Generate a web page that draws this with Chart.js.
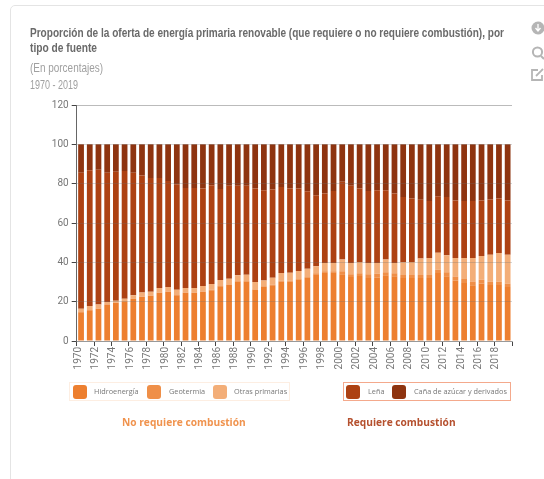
<!DOCTYPE html>
<html lang="es">
<head>
<meta charset="utf-8">
<title>Oferta de energía primaria renovable</title>
<script src="https://cdn.jsdelivr.net/npm/chart.js@4"></script>
<style>
html,body{margin:0;padding:0;background:#fff;width:544px;height:479px;overflow:hidden}
#page{position:absolute;left:0;top:0;width:544px;height:479px;overflow:hidden;filter:blur(.65px)}
#card{position:absolute;left:10px;top:5px;width:600px;height:600px;border:1px solid #e4e4e4;border-radius:5px;box-sizing:border-box}
canvas{position:absolute;left:0;top:0}
.t{position:absolute;white-space:nowrap;font-family:"Liberation Sans",sans-serif;transform-origin:0 50%}
#t1,#t2{left:30px;font-size:13.5px;font-weight:bold;color:#6a6a6a;line-height:14px}
#t1{top:26px}#t2{top:41px}
#t3{left:30px;top:60px;font-size:13px;color:#a0a0a0}
#t4{left:30px;top:78px;font-size:12px;color:#a0a0a0}
.box{position:absolute;top:382px;height:19px;box-sizing:border-box}
#boxA{left:69px;width:221px;border:1px solid #fdeee2}
#boxB{left:343px;width:168px;border:1px solid #f4a98c}
.sw{position:absolute;top:384.5px;width:14px;height:14px;border-radius:3px}
.lg{position:absolute;top:386px;font:7.3px/11px "Open Sans",sans-serif;color:#777;white-space:nowrap}
.gp{position:absolute;top:416px;font:bold 10.2px/13px "Open Sans",sans-serif;white-space:nowrap}
svg{position:absolute;left:528px;top:18px}
</style>
</head>
<body>
<div id="page">
<div id="card"></div>
<canvas id="c" width="544" height="479"></canvas>
<div class="t" id="t1">Proporción de la oferta de energía primaria renovable (que requiere o no requiere combustión), por</div>
<div class="t" id="t2">tipo de fuente</div>
<div class="t" id="t3">(En porcentajes)</div>
<div class="t" id="t4">1970 - 2019</div>
<div class="box" id="boxA"></div>
<div class="box" id="boxB"></div>
<div id="legend"></div>
<svg width="16" height="70" viewBox="0 0 16 70">
<circle cx="10" cy="10" r="6.5" fill="#b5b5b5"/>
<path d="M10 6v6M7.5 10l2.5 3 2.5-3" stroke="#fff" stroke-width="1.3" fill="none"/>
<circle cx="9.5" cy="34" r="4.6" fill="none" stroke="#b5b5b5" stroke-width="2"/>
<path d="M13 38l3 3" stroke="#b5b5b5" stroke-width="2"/>
<path d="M10 52H4v10h10v-5" fill="none" stroke="#b5b5b5" stroke-width="1.8"/>
<path d="M8 58l7-7" stroke="#b5b5b5" stroke-width="1.8"/>
</svg>
</div>
<script>
const years = ["1970","1971","1972","1973","1974","1975","1976","1977","1978","1979","1980","1981","1982","1983","1984","1985","1986","1987","1988","1989","1990","1991","1992","1993","1994","1995","1996","1997","1998","1999","2000","2001","2002","2003","2004","2005","2006","2007","2008","2009","2010","2011","2012","2013","2014","2015","2016","2017","2018","2019"];
const hidroenergia = [14.6,15.6,16.4,18.5,19.3,20.2,21.5,22.4,23,24.5,25,23.2,24.4,24.4,25,25.8,27.8,28.6,30.3,30.3,26,27.5,28.3,30.3,30.3,31.2,32.2,33.9,35,35,34,32.5,33,32,32.2,33.4,32.9,32,32,32,32,34.6,32.9,30.8,29.5,28.3,29.2,28.5,28.5,27.5];
const geotermia = [.1,.1,.1,.1,.1,.1,.1,.1,.1,.1,.2,.2,.2,.2,.2,.2,.2,.2,.2,.2,.3,.3,.3,.3,.3,.3,.3,.5,.5,.5,1.5,1.5,1.5,2,2,1.5,1.5,1.5,1.5,1.5,1.5,1.6,2,2,2,2,2,1.6,1.6,1.6];
const otrasPrimarias = [1.7,2.1,2.1,1.2,1.1,1.2,1.6,2.1,1.9,2.4,2.3,2.6,2.4,2.4,2.8,3,3,2.9,2.9,3.2,3.7,3,3.6,4,4.1,4.1,4.3,3.6,4.2,4.2,5.9,5.7,5.7,5.7,5.5,6.5,5.3,6.5,6.7,8.4,8.7,8.7,8.7,9.4,10.7,11.9,12,13.8,14.6,14.8];
const lena = [69.2,69,68.5,65.8,65.6,64.9,62.4,59.6,57.9,55.9,53.9,53.7,50.8,50.8,49.5,50.2,46.3,47.3,45.6,45.3,47.5,45.8,44.8,43.7,42.8,41.9,39.3,36.1,35.3,36.6,39.6,39.3,37.3,36.6,36.9,35.2,35.3,33.2,32.2,29.9,29,28.7,29.6,29.3,29,29,28.3,28.1,27.7,27.6];
const bagazo = [14.4,13.2,12.9,14.4,13.9,13.6,14.4,15.8,17.1,17.1,18.6,20.3,22.2,22.2,22.5,20.8,22.7,21,21,21,22.5,23.4,23,21.7,22.5,22.5,23.9,25.9,25,23.7,19,21,22.5,23.7,23.4,23.4,25,26.8,27.6,28.2,28.8,26.4,26.8,28.5,28.8,28.8,28.5,28,27.6,28.5];
const seriesNames = ["Hidroenergía","Geotermia","Otras primarias","Leña","Caña de azúcar y derivados"];
const seriesColors = ["#ed7f2f","#ef8f48","#f3ae78","#ad4112","#8e3410"];
const seriesValues = [hidroenergia,geotermia,otrasPrimarias,lena,bagazo];
const yTicks = [0,20,40,60,80,100,120];
const groupNames = ["No requiere combustión","Requiere combustión"];

[["t1",474],["t2",67],["t3",73],["t4",48]].forEach(([id,w])=>{
  const e=document.getElementById(id);
  e.style.transform='scaleX('+(w/e.getBoundingClientRect().width)+')';
});

const legendPos = [[73,94],[147,169],[213,234],[346,368],[392,414]];
const legend = document.getElementById('legend');
seriesNames.forEach((n,i)=>{
  const s=document.createElement('div');s.className='sw';s.style.left=legendPos[i][0]+'px';s.style.background=seriesColors[i];legend.appendChild(s);
  const l=document.createElement('div');l.className='lg';l.style.left=legendPos[i][1]+'px';l.textContent=n;legend.appendChild(l);
});
[[122,"#f0934e"],[347,"#b5502e"]].forEach((g,i)=>{
  const d=document.createElement('div');d.className='gp';d.style.left=g[0]+'px';d.style.color=g[1];d.textContent=groupNames[i];legend.appendChild(d);
});

new Chart(document.getElementById('c'),{
  type:'bar',
  data:{labels:years,datasets:seriesNames.map((n,i)=>({label:n,data:seriesValues[i],backgroundColor:seriesColors[i],stack:'s',borderWidth:0,barPercentage:.66,categoryPercentage:1}))},
  options:{
    responsive:false,animation:false,
    layout:{padding:{left:0,top:105,right:32,bottom:0}},
    plugins:{legend:{display:false},tooltip:{enabled:false},title:{display:false}},
    scales:{
      x:{stacked:true,
        afterFit(s){s.height=138;},
        grid:{offset:true,drawOnChartArea:false,drawTicks:true,tickLength:5,tickColor:c=>c.index%2?'transparent':'#444',color:'#999'},
        border:{color:'#aaa'},
        ticks:{autoSkip:false,minRotation:90,maxRotation:90,padding:1,labelOffset:-3,color:'#777',font:{family:'Roboto',size:10},
          callback(v,i){return i%2?'':this.getLabelForValue(v);}}
      },
      y:{stacked:true,min:0,max:120,
        afterFit(s){s.width=76.7;},
        afterBuildTicks(s){s.ticks=yTicks.map(v=>({value:v}));},
        grid:{z:1,color:c=>c.tick&&c.tick.value===120?'#bbb':'rgba(110,110,110,.28)',tickColor:'#444',tickLength:5},
        border:{color:'#666',z:2},
        ticks:{padding:3,color:'#777',font:{family:'Roboto',size:10}}
      }
    }
  }
});
</script>
</body>
</html>
